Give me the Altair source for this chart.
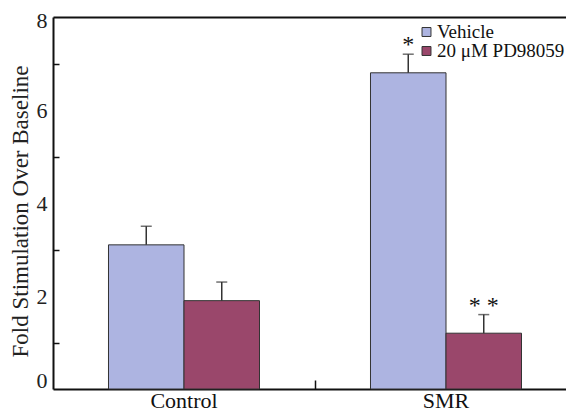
import altair as alt
import pandas as pd

categories = ["Control", "SMR"]
series = ["Vehicle", "20 μM PD98059"]
vehicle = [3.1, 6.8]
pd98059 = [1.9, 1.2]
vehicle_err = [0.4, 0.4]
pd98059_err = [0.4, 0.4]
vehicle_sig = ["", "*"]
pd98059_sig = ["", "* *"]
colors = ["#ADB4E1", "#9A476B"]

rows = []
for i, c in enumerate(categories):
    rows.append({"cat": c, "series": series[0], "value": vehicle[i],
                 "upper": vehicle[i] + vehicle_err[i], "sig": vehicle_sig[i]})
    rows.append({"cat": c, "series": series[1], "value": pd98059[i],
                 "upper": pd98059[i] + pd98059_err[i], "sig": pd98059_sig[i]})
df = pd.DataFrame(rows)

FONT = "Liberation Serif"
H = 372

xscale = alt.Scale(domain=categories, range=[0, 524], paddingInner=0, paddingOuter=0)
xoff = alt.XOffset("series:N", sort=series,
                   scale=alt.Scale(domain=series, paddingInner=0, paddingOuter=0.735))
yscale = alt.Scale(domain=[0, 8], nice=False)

base = alt.Chart(df)

bars = base.mark_bar(stroke="#333333", strokeWidth=1).encode(
    x=alt.X("cat:N", scale=xscale, sort=categories,
            axis=alt.Axis(orient="bottom", title=None, ticks=False, labelAngle=0,
                          labelFont=FONT, labelFontSize=22, labelColor="#111111",
                          labelPadding=1, domainColor="#111111", domainWidth=2)),
    xOffset=xoff,
    y=alt.Y("value:Q", scale=yscale,
            axis=alt.Axis(orient="left", values=[0, 2, 4, 6, 8], ticks=False,
                          title="Fold Stimulation Over Baseline",
                          titleFont=FONT, titleFontSize=23, titleFontWeight="normal",
                          titleColor="#222222", titleX=-21, titleY=H / 2 + 8,
                          labelFont=FONT, labelFontSize=22, labelColor="#222222",
                          labelPadding=6, domainColor="#111111", domainWidth=2,
                          labelOffset={"condition": [
                              {"test": "datum.value == 0", "value": -9},
                              {"test": "datum.value == 8", "value": 3}],
                              "value": 0})),
    color=alt.Color("series:N", sort=series,
                    scale=alt.Scale(domain=series, range=colors),
                    legend=alt.Legend(title=None, orient="none", legendX=364, legendY=8,
                                      symbolType="square", symbolSize=80,
                                      symbolStrokeColor="#333333", symbolStrokeWidth=1,
                                      labelFont=FONT, labelFontSize=19,
                                      labelColor="#111111", rowPadding=0,
                                      clipHeight=14, labelOffset=1)),
)

err = base.mark_rule(color="#333333", strokeWidth=1.5).encode(
    x=alt.X("cat:N", scale=xscale, sort=categories,
            axis=alt.Axis(orient="bottom", title=None, labels=False, domain=False,
                          values=["SMR"], bandPosition=0, tickSize=9, offset=-9,
                          tickColor="#111111", tickWidth=1.5, grid=False)),
    xOffset=xoff,
    y=alt.Y("value:Q", scale=yscale,
            axis=alt.Axis(orient="left", title=None, labels=False, domain=False,
                          values=[1, 3, 5, 7], tickSize=6, offset=-6,
                          tickColor="#111111", tickWidth=1.5, grid=False)),
    y2="upper:Q",
)

caps = base.mark_tick(color="#333333", thickness=1.5, size=11, orient="horizontal").encode(
    x=alt.X("cat:N", scale=xscale, sort=categories,
            axis=alt.Axis(orient="top", title=None, labels=False, ticks=False,
                          domainColor="#111111", domainWidth=2, grid=False)),
    xOffset=xoff,
    y=alt.Y("upper:Q", scale=yscale, axis=None),
)

sig = base.mark_text(font=FONT, fontSize=24, baseline="alphabetic", dy=-2,
                     color="#111111").encode(
    x=alt.X("cat:N", scale=xscale, sort=categories, axis=None),
    xOffset=xoff,
    y=alt.Y("upper:Q", scale=yscale, axis=None),
    text="sig:N",
)

chart = alt.layer(bars, err, caps, sig).resolve_axis(
    x="independent", y="independent"
).properties(
    width=513, height=H,
    autosize=alt.AutoSizeParams(type="none"),
    padding={"left": 45, "top": 9, "right": 0, "bottom": 23},
).configure_view(stroke=None).configure_axis(grid=False)

chart.save("out.html", embed_options={"renderer": "svg", "actions": False})
